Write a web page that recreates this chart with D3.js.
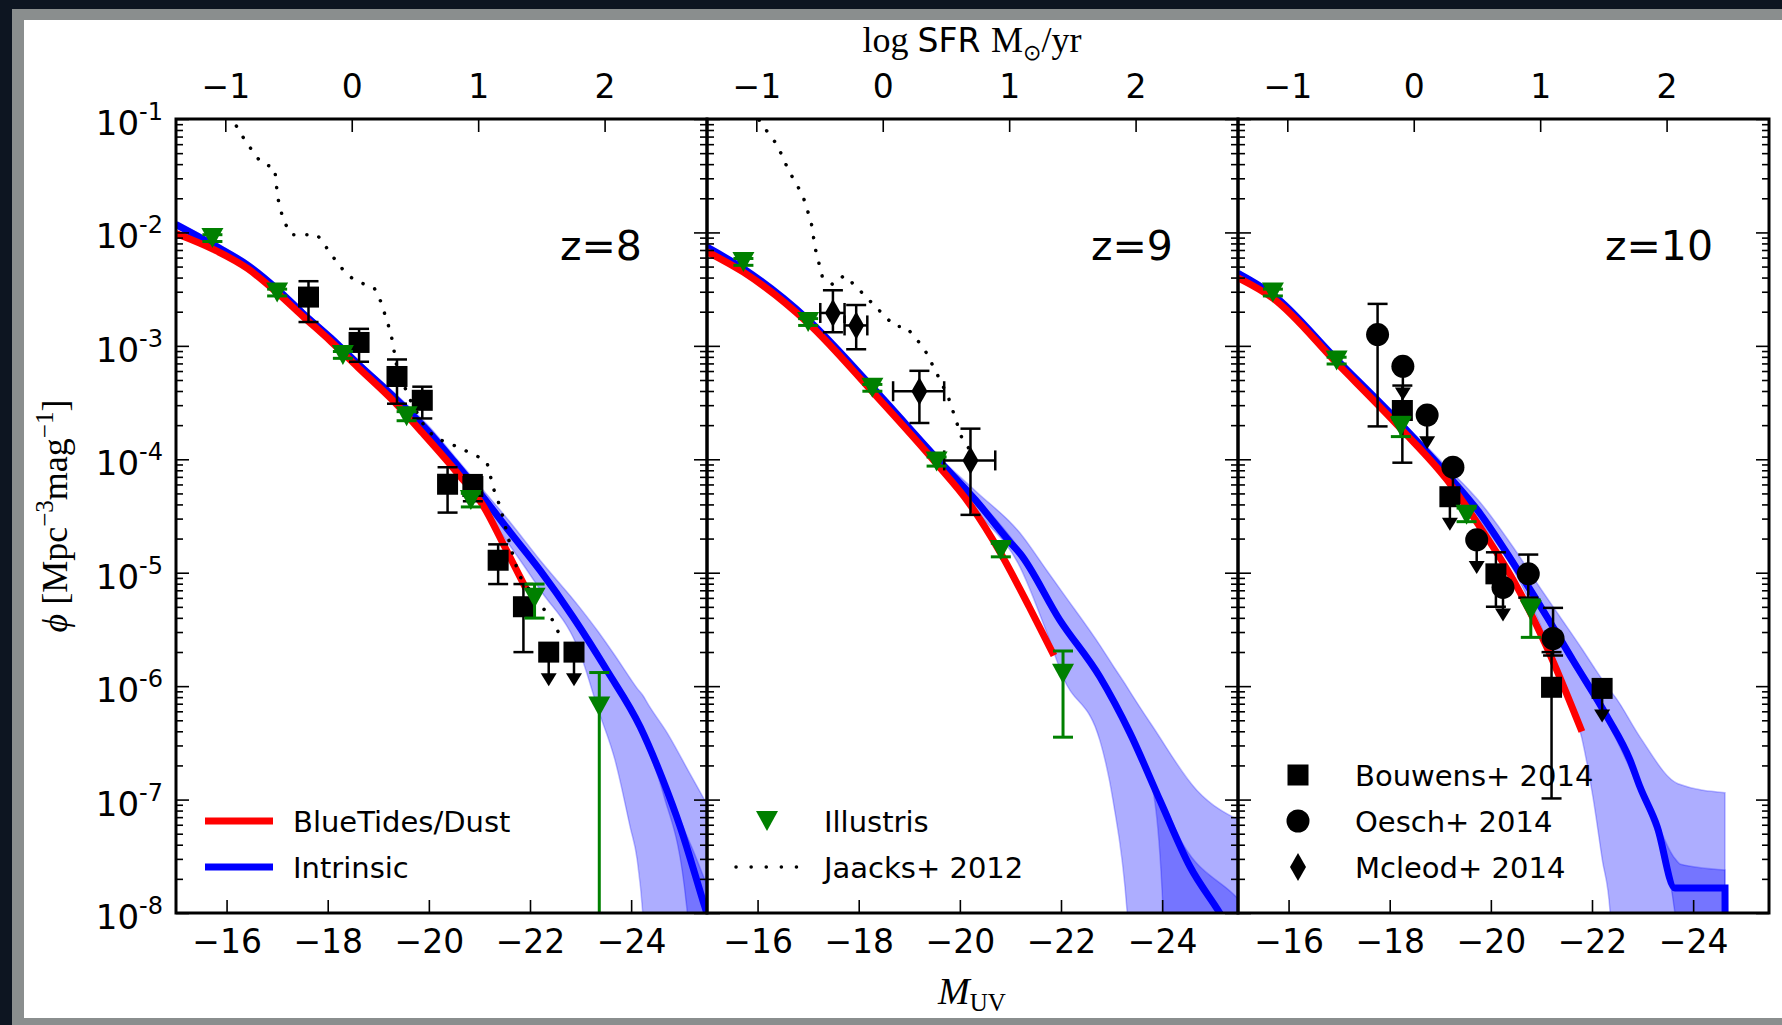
<!DOCTYPE html>
<html>
<head>
<meta charset="utf-8">
<script src="https://cdn.jsdelivr.net/npm/d3@7"></script>
<style>
body { margin: 0; background: #0d1521; }
svg { display: block; }
</style>
</head>
<body>
<svg id="fig" width="1782" height="1025"></svg>
<script>
// UV luminosity functions, rows are [M_UV, log10 phi] unless noted
var redshifts = ['z=8', 'z=9', 'z=10'];
var xTicks = [-16, -18, -20, -22, -24];
var sfrTicks = [-1, 0, 1, 2];

// ---- z=8
var z8Red = [[-15.0,-2.01],[-15.74,-2.15],[-16.42,-2.32],[-16.97,-2.52],[-17.51,-2.74],[-18.06,-2.96],[-18.6,-3.19],[-19.33,-3.50],[-19.88,-3.77],[-20.6,-4.14],[-21.06,-4.40],[-21.51,-4.78],[-21.92,-5.14]];
var z8Blue = [[-15.0,-1.93],[-15.74,-2.11],[-16.42,-2.29],[-17.0,-2.50],[-17.5,-2.71],[-18.06,-2.93],[-18.6,-3.16],[-19.33,-3.46],[-19.96,-3.74],[-20.5,-4.02],[-21.05,-4.32],[-21.6,-4.64],[-22.2,-4.98],[-22.85,-5.39],[-23.52,-5.86],[-24.18,-6.36],[-24.63,-6.83],[-24.97,-7.24],[-25.46,-7.95],[-25.6,-8.15]];
// [M, lower, upper]
var z8Band = [[-15.0,-1.96,-1.90],[-15.74,-2.14,-2.08],[-16.42,-2.32,-2.26],[-17.0,-2.53,-2.47],[-17.5,-2.74,-2.68],[-18.06,-2.96,-2.90],[-18.6,-3.19,-3.13],[-19.33,-3.50,-3.42],[-19.96,-3.80,-3.69],[-20.5,-4.09,-3.97],[-21.05,-4.42,-4.26],[-21.6,-4.76,-4.55],[-22.2,-5.15,-4.89],[-22.99,-5.71,-5.31],[-23.35,-6.21,-5.52],[-23.68,-6.65,-5.73],[-23.98,-7.24,-5.93],[-24.12,-7.53,-6.02],[-24.23,-8.0,-6.08],[-24.35,-9,-6.17],[-24.71,-9,-6.41],[-25.16,-9,-6.77],[-25.6,-9,-7.12]];
var z8Inner = [[-15.0,-1.95,-1.91],[-16.42,-2.31,-2.27],[-18.06,-2.95,-2.91],[-19.96,-3.76,-3.72],[-21.05,-4.35,-4.29],[-22.2,-5.01,-4.95],[-22.85,-5.42,-5.36],[-23.52,-5.89,-5.83],[-24.18,-6.40,-6.32],[-24.63,-6.94,-6.79],[-25.1,-7.95,-7.32],[-25.2,-9,-7.42],[-25.46,-9,-7.71],[-25.6,-9,-7.86]];
// [M, log phi, err low, err high]
var z8Illustris = [[-15.72,-2.05,-2.08,-2.02],[-17.0,-2.53,-2.56,-2.50],[-18.3,-3.08,-3.11,-3.05],[-19.56,-3.62,-3.66,-3.58],[-20.83,-4.36,-4.42,-4.30],[-22.09,-5.22,-5.40,-5.10],[-23.37,-6.18,-9,-5.88]];
var z8Jaacks = [[-16.0,-0.85],[-16.11,-1.0],[-16.38,-1.20],[-16.69,-1.39],[-16.95,-1.43],[-17.01,-1.69],[-17.12,-1.89],[-17.28,-2.02],[-17.79,-2.02],[-17.97,-2.13],[-18.24,-2.30],[-18.52,-2.42],[-18.92,-2.49],[-19.05,-2.61],[-19.25,-2.89],[-19.37,-3.19],[-19.6,-3.45],[-19.9,-3.70],[-20.12,-3.81],[-20.46,-3.87],[-20.95,-3.97],[-21.15,-4.03],[-21.28,-4.26],[-21.41,-4.42],[-21.64,-4.81],[-21.78,-5.02],[-22.20,-5.28],[-22.45,-5.42],[-22.63,-5.59]];
// [M, log phi, err low, err high, upper limit]
var z8Bouwens = [[-17.62,-2.57,-2.79,-2.43,0],[-18.62,-2.97,-3.14,-2.85,0],[-19.37,-3.27,-3.51,-3.12,0],[-19.87,-3.48,-3.64,-3.36,0],[-20.37,-4.22,-4.47,-4.07,0],[-20.87,-4.24,-4.37,-4.14,0],[-21.37,-4.89,-5.10,-4.75,0],[-21.87,-5.30,-5.70,-5.10,0],[-22.37,-5.70,0,0,1],[-22.87,-5.70,0,0,1]];

// ---- z=9
var z9Red = [[-15.0,-2.17],[-15.72,-2.35],[-17.0,-2.80],[-18.26,-3.40],[-19.54,-4.04],[-20.17,-4.38],[-20.81,-4.83],[-21.37,-5.30],[-21.86,-5.73]];
var z9Blue = [[-15.0,-2.13],[-15.72,-2.32],[-17.0,-2.77],[-18.26,-3.36],[-19.54,-3.99],[-20.31,-4.36],[-21.01,-4.74],[-21.19,-4.83],[-21.98,-5.42],[-22.77,-5.92],[-23.36,-6.41],[-23.96,-7.01],[-24.55,-7.59],[-25.14,-8.0],[-25.6,-8.35]];
var z9Band = [[-15.0,-2.15,-2.11],[-15.72,-2.34,-2.30],[-17.0,-2.79,-2.75],[-18.26,-3.38,-3.34],[-19.54,-4.02,-3.96],[-20.31,-4.45,-4.28],[-21.19,-4.95,-4.65],[-21.72,-5.53,-4.98],[-22.04,-5.92,-5.18],[-22.77,-6.48,-5.64],[-23.03,-7.01,-5.82],[-23.31,-8.0,-6.01],[-23.45,-9,-6.11],[-23.82,-9,-6.36],[-24.69,-9,-6.92],[-25.6,-9,-7.2]];
var z9Inner = [[-15.0,-2.14,-2.12],[-15.72,-2.33,-2.31],[-17.0,-2.78,-2.76],[-18.26,-3.37,-3.35],[-19.54,-4.01,-3.97],[-20.31,-4.39,-4.33],[-21.19,-4.86,-4.80],[-21.98,-5.45,-5.39],[-22.77,-5.95,-5.89],[-23.36,-6.44,-6.38],[-23.8,-6.88,-6.82],[-24.02,-8.0,-7.03],[-24.1,-9,-7.10],[-24.3,-9,-7.30],[-25.47,-9,-7.86],[-25.6,-9,-7.92]];
var z9Illustris = [[-15.72,-2.26,-2.29,-2.23],[-17.0,-2.79,-2.82,-2.76],[-18.27,-3.37,-3.40,-3.34],[-19.54,-4.02,-4.06,-3.98],[-20.81,-4.80,-4.86,-4.74],[-22.04,-5.89,-6.45,-5.69]];
var z9Jaacks = [[-15.95,-0.9],[-16.04,-1.02],[-16.39,-1.23],[-16.61,-1.45],[-16.89,-1.67],[-17.06,-1.91],[-17.14,-2.14],[-17.28,-2.39],[-17.49,-2.46],[-17.71,-2.38],[-17.91,-2.46],[-18.30,-2.64],[-18.72,-2.83],[-18.93,-2.83],[-19.29,-3.02],[-19.54,-3.24],[-19.77,-3.45],[-20.03,-3.80],[-20.2,-3.92]];
// [M, log phi, err low, err high, M low, M high]
var z9Mcleod = [[-17.49,-2.71,-2.88,-2.51,-17.24,-17.72],[-17.95,-2.82,-3.03,-2.64,-17.72,-18.17],[-19.20,-3.40,-3.68,-3.22,-18.68,-19.69],[-20.21,-4.01,-4.49,-3.73,-19.69,-20.70]];

// ---- z=10
var z10Red = [[-15.0,-2.40],[-15.69,-2.58],[-16.95,-3.15],[-18.22,-3.73],[-19.13,-4.18],[-19.79,-4.60],[-20.45,-5.07],[-21.10,-5.65],[-21.80,-6.40]];
var z10Blue = [[-15.0,-2.36],[-15.69,-2.55],[-16.95,-3.12],[-18.22,-3.69],[-19.13,-4.13],[-19.79,-4.48],[-20.45,-4.92],[-21.11,-5.39],[-21.62,-5.77],[-22.30,-6.27],[-22.75,-6.65],[-22.95,-6.89],[-23.29,-7.24],[-23.64,-7.78],[-24.63,-7.78],[-24.64,-9.5]];
var z10Band = [[-15.0,-2.38,-2.34],[-15.69,-2.57,-2.53],[-16.95,-3.14,-3.10],[-18.22,-3.72,-3.66],[-19.13,-4.18,-4.07],[-19.79,-4.55,-4.38],[-20.45,-4.98,-4.78],[-20.97,-5.45,-5.13],[-21.37,-5.89,-5.39],[-21.8,-6.46,-5.67],[-22.02,-6.98,-5.82],[-22.20,-7.52,-5.94],[-22.36,-8.0,-6.04],[-22.45,-9,-6.09],[-22.95,-9,-6.45],[-23.7,-9,-6.86],[-24.63,-9,-6.94]];
var z10Inner = [[-15.0,-2.37,-2.35],[-15.69,-2.56,-2.54],[-16.95,-3.13,-3.11],[-18.22,-3.71,-3.67],[-19.13,-4.15,-4.11],[-19.79,-4.51,-4.45],[-20.45,-4.96,-4.88],[-21.11,-5.43,-5.35],[-21.62,-5.81,-5.73],[-22.30,-6.31,-6.23],[-22.95,-6.93,-6.85],[-23.15,-7.15,-7.05],[-23.64,-8.0,-7.52],[-23.75,-9,-7.57],[-24.63,-9,-7.62]];
var z10Illustris = [[-15.69,-2.53,-2.56,-2.50],[-16.95,-3.13,-3.16,-3.10],[-18.22,-3.71,-3.80,-3.63],[-19.52,-4.49,-4.55,-4.43],[-20.79,-5.33,-5.57,-5.24]];
var z10Bouwens = [[-18.25,-3.57,-4.03,-3.35,0],[-19.19,-4.33,0,0,1],[-20.1,-5.01,-5.30,-4.82,0],[-21.2,-6.01,-6.99,-5.70,0],[-22.2,-6.02,0,0,1]];
var z10Oesch = [[-17.76,-2.90,-3.71,-2.63,0],[-18.26,-3.18,0,0,1],[-18.74,-3.61,0,0,1],[-19.25,-4.07,0,0,1],[-19.72,-4.71,0,0,1],[-20.24,-5.13,0,0,1],[-20.74,-5.01,-5.22,-4.84,0],[-21.23,-5.58,-5.73,-5.31,0]];

var panels = [
	{ red: z8Red, blue: z8Blue, band: z8Band, inner: z8Inner, illustris: z8Illustris, jaacks: z8Jaacks, obs: [['square', z8Bouwens]],
	  legend: [['line', '#ff0000', 'BlueTides/Dust'], ['line', '#0000ff', 'Intrinsic']], zx: 384 },
	{ red: z9Red, blue: z9Blue, band: z9Band, inner: z9Inner, illustris: z9Illustris, jaacks: z9Jaacks, obs: [],
	  mcleod: z9Mcleod, legend: [['tri', '#008000', 'Illustris'], ['dot', '#000', 'Jaacks+ 2012']], zx: 384 },
	{ red: z10Red, blue: z10Blue, band: z10Band, inner: z10Inner, illustris: z10Illustris, obs: [['square', z10Bouwens], ['circle', z10Oesch]],
	  legend: [['square', '#000', 'Bouwens+ 2014'], ['circle', '#000', 'Oesch+ 2014'], ['diamond', '#000', 'Mcleod+ 2014']], zx: 367 }
];

var sans = 'DejaVu Sans', serif = 'Liberation Serif';
var W = 1782, H = 1025;
var plotTop = 119, plotBottom = 913, pw = 531, lefts = [176, 707, 1238];
var green = '#008000';
function p(v) { return Math.pow(10, v) }
function sfrOf(m) { return -0.4 * m - 7.39 }

var svg = d3.select('#fig');
svg.append('rect').attr('width', W).attr('height', H).attr('fill', '#0d1521');
svg.append('rect').attr('x', 12).attr('y', 9).attr('width', W - 12).attr('height', H - 9).attr('fill', '#8a8e8e');
svg.append('rect').attr('x', 24).attr('y', 20).attr('width', W - 24).attr('height', 998).attr('fill', '#fff');
var defs = svg.append('defs');

var y = d3.scaleLog().domain([1e-8, 1e-1]).range([plotBottom, plotTop]);
var isDecade = function(t) { var l = Math.log10(t); return Math.abs(l - Math.round(l)) < 1e-6 };
var yMajor = y.ticks().filter(isDecade);
var yMinor = y.ticks().filter(function(t) { return !isDecade(t) });

function marker(g, shape, cx, cy, color)
{
	if (shape == 'square')
		g.append('rect').attr('x', cx - 10.5).attr('y', cy - 10.5).attr('width', 21).attr('height', 21).attr('fill', color);
	else if (shape == 'circle')
		g.append('circle').attr('cx', cx).attr('cy', cy).attr('r', 11.5).attr('fill', color);
	else if (shape == 'diamond')
		g.append('path').attr('d', 'M0,-14L8,0L0,14L-8,0Z').attr('transform', 'translate(' + cx + ',' + cy + ')').attr('fill', color);
	else if (shape == 'tri')
		g.append('path').attr('d', 'M-11,-10L11,-10L0,10Z').attr('transform', 'translate(' + cx + ',' + cy + ')').attr('fill', color);
}

function vbar(g, cx, y1, y2, color, w)
{
	g.append('line').attr('x1', cx).attr('x2', cx).attr('y1', y1).attr('y2', y2).attr('stroke', color).attr('stroke-width', w);
	[y1, y2].forEach(function(yy) {
		g.append('line').attr('x1', cx - 10).attr('x2', cx + 10).attr('y1', yy).attr('y2', yy).attr('stroke', color).attr('stroke-width', w);
	});
}

function cleanAxis(sel)
{
	sel.select('.domain').remove();
	sel.selectAll('.tick line').attr('stroke', '#000').attr('stroke-width', 1.6);
}

panels.forEach(function(P, i) {
	var x0 = lefts[i];
	var x = d3.scaleLinear().domain([-15, -25.5]).range([x0, x0 + pw]);
	var xs = d3.scaleLinear().domain([sfrOf(-15), sfrOf(-25.5)]).range([x0, x0 + pw]);

	defs.append('clipPath').attr('id', 'clip' + i).append('rect')
		.attr('x', x0).attr('y', plotTop).attr('width', pw).attr('height', plotBottom - plotTop);
	var g = svg.append('g');
	var plot = g.append('g').attr('clip-path', 'url(#clip' + i + ')');

	var area = d3.area().curve(d3.curveMonotoneX).x(function(d) { return x(d[0]) })
		.y0(function(d) { return y(p(d[1])) }).y1(function(d) { return y(p(d[2])) });
	var smooth = d3.line().curve(d3.curveMonotoneX).x(function(d) { return x(d[0]) }).y(function(d) { return y(p(d[1])) });
	var line = d3.line().x(function(d) { return x(d[0]) }).y(function(d) { return y(p(d[1])) });

	[P.band, P.inner].forEach(function(b) {
		plot.append('path').datum(b).attr('d', area)
			.attr('fill', '#0000ff').attr('fill-opacity', 0.32)
			.attr('stroke', '#0000ff').attr('stroke-opacity', 0.25).attr('stroke-width', 1.5);
	});
	plot.append('path').datum(P.blue).attr('d', smooth).attr('fill', 'none').attr('stroke', '#0000ff').attr('stroke-width', 7);
	plot.append('path').datum(P.red).attr('d', smooth).attr('fill', 'none').attr('stroke', '#ff0000').attr('stroke-width', 7);
	if (P.jaacks)
		plot.append('path').datum(P.jaacks).attr('d', line).attr('fill', 'none').attr('stroke', '#000')
			.attr('stroke-width', 3.5).attr('stroke-linecap', 'round').attr('stroke-dasharray', '0.1,13');

	// observations
	P.obs.forEach(function(o) {
		var shape = o[0];
		o[1].forEach(function(d) {
			var cx = x(d[0]), cy = y(p(d[1]));
			if (d[4]) {
				var tip = y(p(d[1]) / 2);
				plot.append('line').attr('x1', cx).attr('x2', cx).attr('y1', cy).attr('y2', tip - 10).attr('stroke', '#000').attr('stroke-width', 2.5);
				plot.append('path').attr('d', 'M-8,-13L8,-13L0,0Z').attr('transform', 'translate(' + cx + ',' + tip + ')').attr('fill', '#000');
			} else {
				vbar(plot, cx, y(p(d[2])), y(p(d[3])), '#000', 2.5);
			}
			marker(plot, shape, cx, cy, '#000');
		});
	});
	if (P.mcleod) {
		P.mcleod.forEach(function(d) {
			var cx = x(d[0]), cy = y(p(d[1]));
			vbar(plot, cx, y(p(d[2])), y(p(d[3])), '#000', 2.5);
			plot.append('line').attr('x1', x(d[4])).attr('x2', x(d[5])).attr('y1', cy).attr('y2', cy).attr('stroke', '#000').attr('stroke-width', 2.5);
			[d[4], d[5]].forEach(function(m) {
				plot.append('line').attr('x1', x(m)).attr('x2', x(m)).attr('y1', cy - 10).attr('y2', cy + 10).attr('stroke', '#000').attr('stroke-width', 2.5);
			});
			marker(plot, 'diamond', cx, cy, '#000');
		});
	}
	P.illustris.forEach(function(d) {
		var cx = x(d[0]);
		vbar(plot, cx, y(p(d[2])), y(p(d[3])), green, 3);
		marker(plot, 'tri', cx, y(p(d[1])), green);
	});

	// axes (ticks inward)
	g.append('g').attr('transform', 'translate(' + x0 + ',0)')
		.call(d3.axisLeft(y).tickValues(yMajor).tickSize(-13).tickFormat('')).call(cleanAxis);
	g.append('g').attr('transform', 'translate(' + x0 + ',0)')
		.call(d3.axisLeft(y).tickValues(yMinor).tickSize(-7).tickFormat('')).call(cleanAxis);
	g.append('g').attr('transform', 'translate(' + (x0 + pw) + ',0)')
		.call(d3.axisRight(y).tickValues(yMajor).tickSize(-13).tickFormat('')).call(cleanAxis);
	g.append('g').attr('transform', 'translate(' + (x0 + pw) + ',0)')
		.call(d3.axisRight(y).tickValues(yMinor).tickSize(-7).tickFormat('')).call(cleanAxis);

	var bx = g.append('g').attr('transform', 'translate(0,' + plotBottom + ')')
		.call(d3.axisBottom(x).tickValues(xTicks).tickSize(-13).tickPadding(17).tickFormat(d3.format('d'))).call(cleanAxis);
	bx.selectAll('text').attr('font-family', sans).attr('font-size', 33).attr('fill', '#000');
	var tx = g.append('g').attr('transform', 'translate(0,' + plotTop + ')')
		.call(d3.axisTop(xs).tickValues(sfrTicks).tickSize(-13).tickPadding(21).tickFormat(d3.format('d'))).call(cleanAxis);
	tx.selectAll('text').attr('font-family', sans).attr('font-size', 33).attr('fill', '#000');

	g.append('rect').attr('x', x0).attr('y', plotTop).attr('width', pw).attr('height', plotBottom - plotTop)
		.attr('fill', 'none').attr('stroke', '#000').attr('stroke-width', 3);

	g.append('text').attr('x', x0 + P.zx).attr('y', 260).attr('font-family', sans).attr('font-size', 41)
		.text(redshifts[i]);

	// legend
	var n = P.legend.length;
	P.legend.forEach(function(L, k) {
		var ry = 867 - (n - 1 - k) * 46;
		if (L[0] == 'line')
			g.append('line').attr('x1', x0 + 29).attr('x2', x0 + 97).attr('y1', ry).attr('y2', ry).attr('stroke', L[1]).attr('stroke-width', 7);
		else if (L[0] == 'dot')
			g.append('line').attr('x1', x0 + 29).attr('x2', x0 + 92).attr('y1', ry).attr('y2', ry).attr('stroke', L[1])
				.attr('stroke-width', 3.5).attr('stroke-linecap', 'round').attr('stroke-dasharray', '0.1,15');
		else
			marker(g, L[0], x0 + 60, ry, L[1]);
		g.append('text').attr('x', x0 + 117).attr('y', ry + 11).attr('font-family', sans).attr('font-size', 29).text(L[2]);
	});
});

// y tick labels on the first panel
yMajor.forEach(function(t) {
	var e = Math.round(Math.log10(t));
	var tt = svg.append('text').attr('x', 163).attr('y', y(t) + 16).attr('text-anchor', 'end')
		.attr('font-family', sans).attr('font-size', 34);
	tt.append('tspan').text('10');
	tt.append('tspan').attr('font-size', 24).attr('dy', -15).text('-' + (-e));
});

// axis titles
var yl = svg.append('text').attr('transform', 'translate(67,516) rotate(-90)').attr('text-anchor', 'middle')
	.attr('font-family', serif).attr('font-size', 36);
yl.append('tspan').attr('font-style', 'italic').text('\u03d5');
yl.append('tspan').text(' [Mpc');
yl.append('tspan').attr('font-size', 25).attr('dy', -14).text('\u22123');
yl.append('tspan').attr('dy', 14).text('mag');
yl.append('tspan').attr('font-size', 25).attr('dy', -14).text('\u22121');
yl.append('tspan').attr('dy', 14).text(']');

var tl = svg.append('text').attr('x', 972).attr('y', 52).attr('text-anchor', 'middle').attr('font-size', 36);
tl.append('tspan').attr('font-family', serif).text('log ');
tl.append('tspan').attr('font-family', sans).attr('font-size', 33).text('SFR ');
tl.append('tspan').attr('font-family', serif).text('M');
tl.append('tspan').attr('font-family', 'DejaVu Sans').attr('font-size', 22).attr('dy', 8).text('\u2299');
tl.append('tspan').attr('font-family', serif).attr('dy', -8).text('/yr');

var xl = svg.append('text').attr('x', 972).attr('y', 1004).attr('text-anchor', 'middle').attr('font-family', serif);
xl.append('tspan').attr('font-style', 'italic').attr('font-size', 38).text('M');
xl.append('tspan').attr('font-size', 25).attr('dy', 7).text('UV');
</script>
</body>
</html>
